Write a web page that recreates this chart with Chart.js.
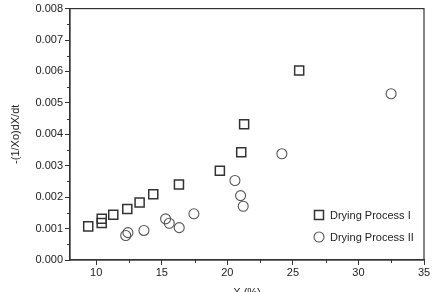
<!DOCTYPE html>
<html>
<head>
<meta charset="utf-8">
<script src="https://cdn.jsdelivr.net/npm/chart.js@4.4.0/dist/chart.umd.min.js"></script>
<style>
  html, body { margin: 0; padding: 0; background: #fff; overflow: hidden; }
  #wrap { width: 437px; height: 300px; position: relative; }
</style>
</head>
<body>
<div id="wrap"><canvas id="chart"></canvas></div>
<script>
// Drying Process I (squares)
const process1X = [9.39, 10.42, 10.42, 11.30, 12.37, 13.31, 14.35, 16.31, 19.43, 21.06, 21.28, 25.48]
const process1Y = [0.00107, 0.00131, 0.00118, 0.00144, 0.00162, 0.00183, 0.00209, 0.00240, 0.00284, 0.00343, 0.00432, 0.00603]

// Drying Process II (circles)
const process2X = [12.25, 12.42, 13.64, 15.29, 15.57, 16.33, 17.45, 20.58, 21.01, 21.21, 24.16, 32.49]
const process2Y = [0.00078, 0.00087, 0.00094, 0.00131, 0.00117, 0.00103, 0.00147, 0.00253, 0.00205, 0.00171, 0.00338, 0.00529]

const seriesLabels = ["Drying Process I", "Drying Process II"]
const xMajorTicks = [10, 15, 20, 25, 30, 35]
const yMajorTicks = [0, 0.001, 0.002, 0.003, 0.004, 0.005, 0.006, 0.007, 0.008]

const toPoints = (xs, ys) => xs.map((x, i) => ({ x: x, y: ys[i] }))

const FONT = "'Liberation Sans', Arial, sans-serif"
const INK = "#333"

// Frame, minor ticks and the in-plot legend
const framePlugin = {
  id: "frame",
  afterDraw(chart) {
    const ctx = chart.ctx
    const a = chart.chartArea
    const xs = chart.scales.x
    const ys = chart.scales.y
    ctx.save()
    ctx.strokeStyle = INK
    ctx.lineWidth = 1.2
    ctx.strokeRect(a.left, a.top, a.right - a.left, a.bottom - a.top)

    // minor ticks
    ctx.lineWidth = 1
    ctx.beginPath()
    for (let v = 12.5; v < 35; v += 5) {
      const px = Math.round(xs.getPixelForValue(v)) + 0.5
      ctx.moveTo(px, a.bottom)
      ctx.lineTo(px, a.bottom + 3)
    }
    for (let v = 0.0005; v < 0.008; v += 0.001) {
      const py = Math.round(ys.getPixelForValue(v)) + 0.5
      ctx.moveTo(a.left, py)
      ctx.lineTo(a.left - 3, py)
    }
    ctx.stroke()

    // legend
    const lx = a.right - 105
    const rows = [a.bottom - 45, a.bottom - 23]
    ctx.font = "11px " + FONT
    ctx.fillStyle = "#222"
    ctx.textBaseline = "middle"
    chart.data.datasets.forEach((ds, i) => {
      const y = rows[i]
      ctx.strokeStyle = ds.borderColor
      ctx.lineWidth = ds.borderWidth
      ctx.beginPath()
      if (ds.pointStyle === "rect") {
        ctx.rect(lx - 4.5, y - 4.5, 9, 9)
      } else {
        ctx.arc(lx, y, 5, 0, Math.PI * 2)
      }
      ctx.stroke()
      ctx.fillText(ds.label, lx + 11, y + 1)
    })
    ctx.restore()
  },
}

new Chart(document.getElementById("chart"), {
  type: "scatter",
  data: {
    datasets: [
      {
        label: seriesLabels[0],
        data: toPoints(process1X, process1Y),
        pointStyle: "rect",
        pointRadius: 6.4,
        pointHoverRadius: 6.4,
        backgroundColor: "rgba(255,255,255,0)",
        borderColor: "#333",
        borderWidth: 1.5,
      },
      {
        label: seriesLabels[1],
        data: toPoints(process2X, process2Y),
        pointStyle: "circle",
        pointRadius: 5,
        pointHoverRadius: 5,
        backgroundColor: "rgba(255,255,255,0)",
        borderColor: "#555",
        borderWidth: 1.1,
      },
    ],
  },
  options: {
    responsive: true,
    maintainAspectRatio: false,
    animation: false,
    events: [],
    layout: { padding: { top: 5, right: 13, left: 0, bottom: 0 } },
    plugins: {
      legend: { display: false },
      tooltip: { enabled: false },
    },
    scales: {
      x: {
        type: "linear",
        min: 8,
        max: 35,
        afterBuildTicks: (scale) => { scale.ticks = xMajorTicks.map((v) => ({ value: v })) },
        afterFit: (scale) => { scale.height = 40 },
        ticks: { color: "#222", font: { family: FONT, size: 11 }, padding: 1, maxRotation: 0 },
        grid: { display: true, drawOnChartArea: false, tickLength: 5, color: INK },
        border: { display: true, color: INK, width: 1.2 },
        title: {
          display: true,
          text: "X (%)",
          color: "#222",
          font: { family: FONT, size: 11 },
          padding: { top: 4, bottom: 0 },
        },
      },
      y: {
        min: 0,
        max: 0.008,
        afterBuildTicks: (scale) => { scale.ticks = yMajorTicks.map((v) => ({ value: v })) },
        afterFit: (scale) => { scale.width = 70 },
        ticks: {
          color: "#222",
          font: { family: FONT, size: 11 },
          padding: 2,
          callback: (v) => v.toFixed(3),
        },
        grid: { display: true, drawOnChartArea: false, tickLength: 5, color: INK },
        border: { display: true, color: INK, width: 1.2 },
        title: {
          display: true,
          text: "-(1/Xo)dX/dt",
          color: "#222",
          font: { family: FONT, size: 11 },
          padding: { top: 9, bottom: 0 },
        },
      },
    },
  },
  plugins: [framePlugin],
})
</script>
</body>
</html>
